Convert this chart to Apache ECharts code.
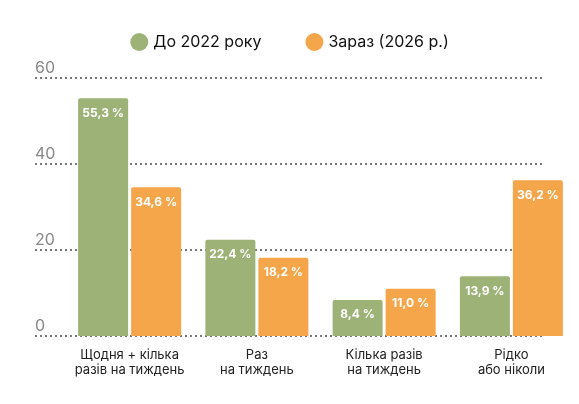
<!DOCTYPE html>
<html><head><meta charset="utf-8">
<script src="https://cdn.jsdelivr.net/npm/echarts@6/dist/echarts.min.js"></script>
<style>html,body{margin:0;background:#fff}#c{width:579px;height:404px}</style>
</head><body><div id="c"></div>
<script>
const categories = ["Щодня + кілька\nразів на тиждень", "Раз\nна тиждень", "Кілька разів\nна тиждень", "Рідко\nабо ніколи"];
const before2022 = [55.3, 22.4, 8.4, 13.9];
const now2026 = [34.6, 18.2, 11.0, 36.2];
const yTicks = [0, 20, 40, 60];

const font = "Inter, 'Noto Sans', sans-serif";
const fmt = p => p.value.toFixed(1).replace(".", ",") + " %";
const barLabel = { show: true, position: "insideTop", distance: 9, color: "#fff", fontWeight: "bold", fontSize: 12, fontFamily: font, formatter: fmt };

const chart = echarts.init(document.getElementById("c"));
chart.setOption({
  animation: false,
  textStyle: { fontFamily: font },
  legend: {
    top: 28, left: "center", itemGap: 44, icon: "circle", itemWidth: 18, itemHeight: 18,
    textStyle: { fontSize: 16, color: "#111", fontFamily: font },
    data: ["До 2022 року", "Зараз (2026 р.)"]
  },
  grid: [
    { left: 35, right: 34, top: 78, bottom: 68 },
    { left: 66, right: 4, top: 78, bottom: 68 }
  ],
  xAxis: [
    { gridIndex: 0, type: "value", show: false },
    {
      gridIndex: 1, type: "category", data: categories,
      axisLine: { show: false }, axisTick: { show: false },
      axisLabel: { interval: 0, color: "#222", fontSize: 13, lineHeight: 15, margin: 12, fontFamily: font }
    }
  ],
  yAxis: [
    {
      gridIndex: 0, type: "value", min: 0, max: 60, interval: 20,
      axisLine: { show: false }, axisTick: { show: false },
      splitLine: { lineStyle: { type: [2, 3], width: 2, color: "#777" } },
      axisLabel: {
        inside: true, margin: 0, verticalAlign: "bottom", padding: [0, 0, 2, 0],
        color: "#888", fontSize: 16, fontFamily: font,
        formatter: v => yTicks.includes(v) ? String(v) : ""
      }
    },
    { gridIndex: 1, type: "value", min: 0, max: 60, show: false }
  ],
  series: [
    {
      name: "До 2022 року", type: "bar", xAxisIndex: 1, yAxisIndex: 1,
      data: before2022, barWidth: 50, barGap: "6%",
      itemStyle: { color: "#9db277", borderRadius: [2, 2, 0, 0] }, label: barLabel
    },
    {
      name: "Зараз (2026 р.)", type: "bar", xAxisIndex: 1, yAxisIndex: 1,
      data: now2026, barWidth: 50,
      itemStyle: { color: "#f5a54a", borderRadius: [2, 2, 0, 0] }, label: barLabel
    }
  ]
});
</script></body></html>
